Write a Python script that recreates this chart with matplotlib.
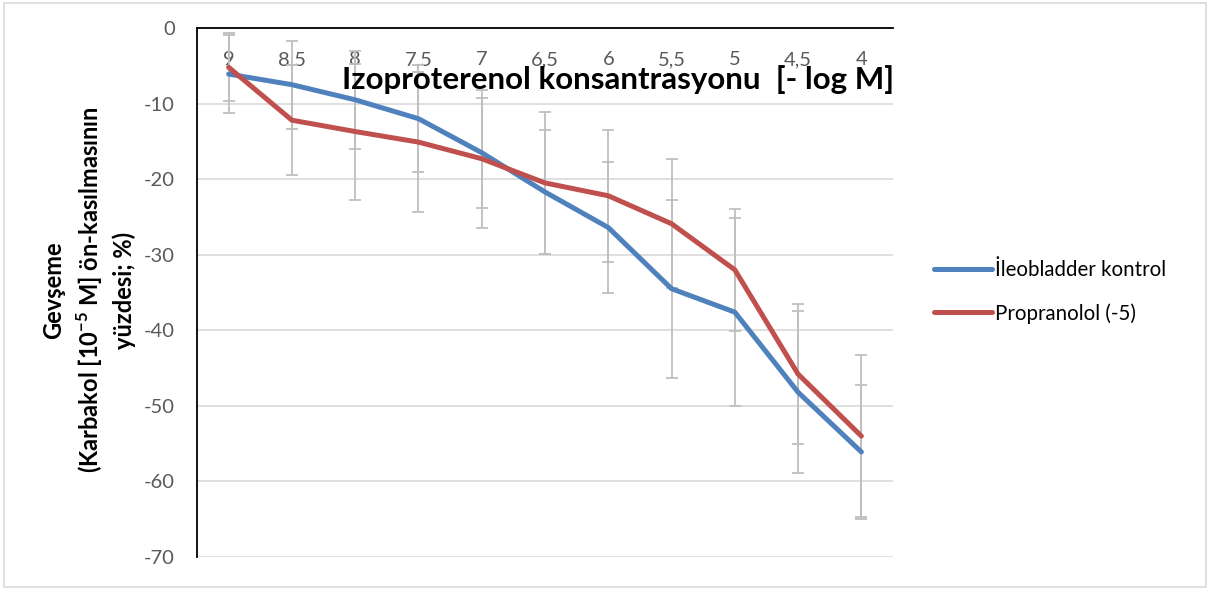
import matplotlib
matplotlib.use("Agg")
import matplotlib.pyplot as plt
from matplotlib.patches import Rectangle

plt.rcParams['font.family'] = ['Lato', 'DejaVu Sans']
plt.rcParams['mathtext.fontset'] = 'custom'
plt.rcParams['mathtext.rm'] = 'Lato'
plt.rcParams['mathtext.bf'] = 'Lato:bold'

categories = ["9", "8,5", "8", "7,5", "7", "6,5", "6", "5,5", "5", "4,5", "4"]
control = [-6.1, -7.5, -9.5, -12.0, -16.5, -21.7, -26.4, -34.5, -37.6, -48.2, -56.1]
control_err = [5.2, 5.8, 6.5, 7.1, 7.3, 8.2, 8.7, 11.8, 12.4, 10.7, 8.9]
propranolol = [-5.2, -12.2, -13.7, -15.1, -17.3, -20.5, -22.2, -25.9, -32.0, -45.8, -54.0]
propranolol_err = [4.5, 7.3, 9.0, 9.3, 9.1, 9.4, 8.7, 8.5, 8.1, 9.3, 10.7]
y_ticks = [0, -10, -20, -30, -40, -50, -60, -70]

W, H = 1217, 590
fig = plt.figure(figsize=(W / 100, H / 100), dpi=100)
fig.patches.append(Rectangle((4 / W, 3 / H), 1202 / W, 584 / H, transform=fig.transFigure,
                             fill=False, edgecolor='#D9D9D9', linewidth=1.2))

ax = fig.add_axes([197 / W, 1 - 557 / H, 696 / W, 529 / H])
x = list(range(len(categories)))

for vals, errs in [(control, control_err), (propranolol, propranolol_err)]:
    ax.errorbar(x, vals, yerr=errs, fmt='none', ecolor='#BFBFBF', elinewidth=1.3,
                capsize=4, capthick=1.3, zorder=2)

ax.plot(x, control, color='#4F81BD', lw=3.6, solid_capstyle='round', zorder=3,
        label='İleobladder kontrol')
ax.plot(x, propranolol, color='#C0504D', lw=3.6, solid_capstyle='round', zorder=3,
        label='Propranolol (-5)')

ax.set_xlim(-0.5, len(categories) - 0.5)
ax.set_ylim(-70, 0)
ax.set_yticks(y_ticks)
ax.set_yticklabels([str(v) for v in y_ticks])
ax.set_xticks(x)
ax.set_xticklabels(categories)
ax.grid(axis='y', color='#D9D9D9', lw=1.2, zorder=0)
ax.set_axisbelow(True)

ax.spines['top'].set_visible(False)
ax.spines['right'].set_visible(False)
ax.spines['bottom'].set_position(('data', 0))
ax.spines['bottom'].set_color('black')
ax.spines['bottom'].set_linewidth(1.3)
ax.spines['left'].set_color('black')
ax.spines['left'].set_linewidth(1.3)
ax.tick_params(axis='x', length=0, pad=16.5, labelsize=14.5, labelcolor='#595959')
ax.tick_params(axis='y', length=0, pad=16, labelsize=14.5, labelcolor='#595959')

ax.text(0.605, 0.903, 'Izoproterenol konsantrasyonu  [- log M]', transform=ax.transAxes,
        ha='center', va='center', fontsize=22.5, fontweight='bold', color='black')

fig.text(89 / W, 1 - 290 / H,
         'Gevşeme\n(Karbakol [10$^{\\mathbf{-5}}$ M] ön-kasılmasının\nyüzdesi; %)',
         rotation=90, ha='center', va='center', multialignment='center',
         fontsize=17, fontweight='bold', linespacing=1.4)

fig.legend(loc='center left', bbox_to_anchor=(916 / W, 1 - 292 / H), frameon=False,
           fontsize=14.8, handlelength=2.8, handletextpad=0.15, labelspacing=1.1)

fig.savefig('out.png', dpi=100)
